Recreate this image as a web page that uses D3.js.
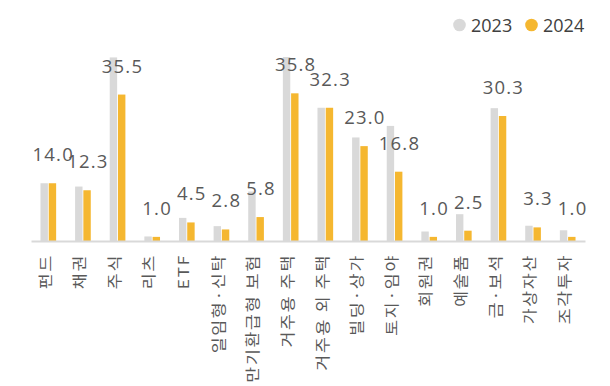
<!DOCTYPE html>
<html>
<head>
<meta charset="utf-8">
<script src="https://cdn.jsdelivr.net/npm/d3@7"></script>
<style>
    body { margin: 0; background: #fff; }
    svg { display: block; }
</style>
</head>
<body>
<div id="chart"></div>
<script>
(function () {

    // Data
    var categories = ['펀드', '채권', '주식', '리츠', 'ETF', '일임형·신탁', '만기환급형 보험', '거주용 주택',
        '거주용 외 주택', '빌딩·상가', '토지·임야', '회원권', '예술품', '금·보석', '가상자산', '조각투자'];
    var series = ['2023', '2024'];
    var values2023 = [14.0, 13.2, 44.5, 1.1, 5.6, 3.6, 12.0, 44.6, 32.3, 25.1, 27.9, 2.3, 6.5, 32.2, 3.7, 2.6];
    var values2024 = [14.0, 12.3, 35.5, 1.0, 4.5, 2.8, 5.8, 35.8, 32.3, 23.0, 16.8, 1.0, 2.5, 30.3, 3.3, 1.0];
    var colors = ['#d9d9d9', '#f5b730'];

    var width = 610, height = 386;
    var baseY = 241;

    var svg = d3.select('#chart')
        .append('svg')
        .attr('width', width)
        .attr('height', height);

    // Scales
    var x0 = d3.scaleBand()
        .domain(categories)
        .range([31, 585])
        .paddingInner(0.5)
        .paddingOuter(0.25);

    var x1 = d3.scaleBand()
        .domain(series)
        .range([0, x0.bandwidth()])
        .padding(0.1);

    var y = d3.scaleLinear()
        .domain([0, 40])
        .range([baseY, baseY - 40 * 4.125]);

    var rows = categories.map(function (c, i) {
        return { cat: c, vals: [values2023[i], values2024[i]] };
    });

    // Bars
    var groups = svg.append('g')
        .selectAll('g')
        .data(rows)
        .enter()
        .append('g')
        .attr('transform', function (d) { return 'translate(' + x0(d.cat) + ',0)'; });

    groups.selectAll('rect')
        .data(function (d) { return d.vals.map(function (v, k) { return { key: series[k], v: v, k: k }; }); })
        .enter()
        .append('rect')
        .attr('x', function (d) { return x1(d.key); })
        .attr('y', function (d) { return y(d.v); })
        .attr('width', x1.bandwidth())
        .attr('height', function (d) { return baseY - y(d.v); })
        .attr('fill', function (d) { return colors[d.k]; });

    // Axis
    var axis = svg.append('g')
        .attr('transform', 'translate(0,' + baseY + ')')
        .call(d3.axisBottom(x0).tickSize(0).tickSizeOuter(0));

    axis.select('.domain')
        .attr('stroke', '#d9d9d9')
        .attr('stroke-width', 2);

    // category names, rotated and stretched a bit along the reading direction
    var stretch = 1.15;
    axis.selectAll('text')
        .attr('transform', 'rotate(-90) scale(' + stretch + ',1)')
        .attr('x', -13 / stretch)
        .attr('y', -3)
        .attr('dy', '0.35em')
        .attr('text-anchor', 'end')
        .attr('fill', '#595959')
        .style('font-family', '"Noto Sans CJK KR", "Noto Sans", sans-serif')
        .style('font-size', '15px')
        .style('letter-spacing', '1.5px');

    // Data labels (2024 values, over the 2024 bar)
    svg.append('g')
        .selectAll('text')
        .data(rows)
        .enter()
        .append('text')
        .attr('x', function (d) { return x0(d.cat) + x1('2024') + x1.bandwidth() / 2 + 0.8; })
        .attr('y', function (d) { return y(d.vals[1]) - 22; })
        .attr('text-anchor', 'middle')
        .attr('fill', '#595959')
        .style('font-family', '"Open Sans", "Noto Sans", sans-serif')
        .style('font-size', '18.5px')
        .style('letter-spacing', '1.2px')
        .text(function (d) { return d3.format('.1f')(d.vals[1]); });

    // Legend
    var legendPos = [459.5, 531.5];
    var legend = svg.append('g')
        .selectAll('g')
        .data(series)
        .enter()
        .append('g')
        .attr('transform', function (d, i) { return 'translate(' + legendPos[i] + ',25)'; });

    legend.append('circle')
        .attr('r', 6.3)
        .attr('fill', function (d, i) { return colors[i]; });

    legend.append('text')
        .attr('x', 11.5)
        .attr('y', 6.7)
        .attr('fill', '#404040')
        .style('font-family', '"Open Sans", "Noto Sans", sans-serif')
        .style('font-size', '18px')
        .text(function (d) { return d; });

})();
</script>
</body>
</html>
